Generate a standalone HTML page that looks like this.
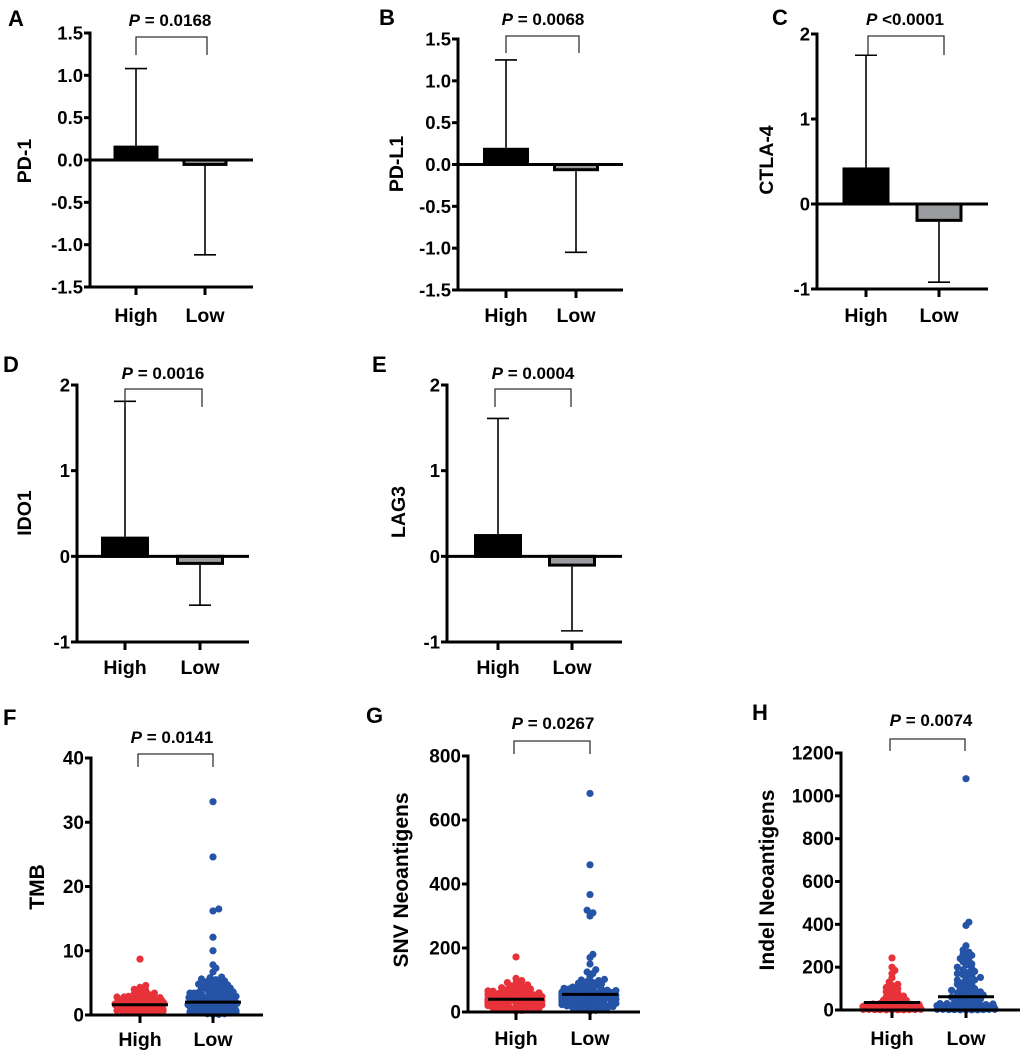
<!DOCTYPE html>
<html><head><meta charset="utf-8">
<style>
html,body{margin:0;padding:0;background:#fff;}
svg{display:block;font-family:"Liberation Sans",Arial,sans-serif;font-weight:bold;}
</style></head>
<body>
<svg id="fig" width="1020" height="1055" viewBox="0 0 1020 1055" xmlns="http://www.w3.org/2000/svg"></svg>
<script>
// ---- Bar panel data (A-E) ----
const barPanels = ["A","B","C","D","E"];
const barTitles = ["PD-1","PD-L1","CTLA-4","IDO1","LAG3"];
const barPValues = ["= 0.0168","= 0.0068","<0.0001","= 0.0016","= 0.0004"];
const barCategories = ["High","Low"];
const barHighMeans = [0.17, 0.20, 0.43, 0.23, 0.26];
const barLowMeans = [-0.07, -0.08, -0.21, -0.10, -0.12];
const barHighErrTop = [1.08, 1.25, 1.75, 1.81, 1.61];
const barLowErrBottom = [-1.12, -1.05, -0.92, -0.57, -0.87];
const barTicksA = [-1.5,-1.0,-0.5,0.0,0.5,1.0,1.5];
const barTicksC = [-1,0,1,2];

// ---- Scatter panel data (F-H) ----
const scPanels = ["F","G","H"];
const scTitles = ["TMB","SNV Neoantigens","Indel Neoantigens"];
const scPValues = ["= 0.0141","= 0.0267","= 0.0074"];
const scTicksF = [0,10,20,30,40];
const scTicksG = [0,200,400,600,800];
const scTicksH = [0,200,400,600,800,1000,1200];
const medianHigh = [1.6, 40, 35];
const medianLow = [2.0, 55, 62];
const tmbHigh = [8.7,4.6,4.3,4.0,3.8,3.6,3.4,3.2,3.1,3.0,2.9,2.8,2.7,2.6,2.5,2.4,2.4,2.3,2.2,2.2,2.1,2.0,2.0,1.9,1.9,1.8,1.8,1.7,1.7,1.7,1.6,1.6,1.6,1.5,1.5,1.5,1.4,1.4,1.4,1.3,1.3,1.3,1.2,1.2,1.1,1.1,1.0,1.0,0.9,0.9,0.8,0.7,0.6,0.5,0.4,0.3,2.3,1.9,1.2,0.8,
 2.5,2.4,2.2,2.1,2.0,1.9,1.8,1.7,1.6,1.5,1.4,1.3,1.2,1.1,1.0,0.9,0.8,0.7,2.6,2.3,2.1,1.9,1.7,1.5,1.3,1.1,0.9,0.6,0.5,0.4,2.0,1.8,1.6,1.4,1.2,1.0,3.3,2.8,2.7,0.2];
const tmbLow = [33.2,24.6,16.5,16.2,12.1,10.0,7.8,7.3,6.7,5.9,5.6,5.3,5.0,4.8,4.6,4.4,4.2,4.0,3.8,3.6,3.4,3.3,3.2,3.0,2.9,2.8,2.7,2.6,2.5,2.4,2.3,2.2,2.2,2.1,2.1,2.0,2.0,1.9,1.9,1.8,1.8,1.7,1.7,1.6,1.6,1.5,1.5,1.4,1.4,1.3,1.3,1.2,1.2,1.1,1.0,0.9,0.8,0.7,0.6,0.5,0.4,0.3,0.2,2.5,2.3,2.0,1.8,1.6,1.4,1.2,1.0,0.8,3.1,2.7,
 5.8,5.5,5.2,4.9,4.5,4.1,3.9,3.5,3.2,2.9,2.6,2.4,2.2,2.1,2.0,1.9,1.8,1.7,1.6,1.5,1.4,1.3,1.2,1.1,1.0,0.9,0.8,0.6,0.5,0.4,0.3,0.1,2.8,2.6,2.4,2.3,2.2,2.1,2.0,1.9,1.8,1.7,1.5,1.3,1.1,0.9,0.7,3.0,2.7,2.5,2.3,2.1,1.9,1.7,1.5,1.2,1.0,0.8,0.6,3.7,3.4,3.1,4.3,4.7,0.2,0.1];
const snvHigh = [172,105,98,92,85,80,76,72,68,65,62,60,58,55,52,50,48,46,44,42,40,40,38,37,36,35,34,33,32,30,30,28,27,26,25,24,22,20,18,16,14,12,10,8,5,45,38,30,22,
 90,82,75,70,66,63,60,57,54,51,49,47,45,43,41,39,37,35,33,31,29,27,25,23,21,19,17,15,13,11,9,7,55,48,42,36,31,26,20,15,44,39,34,28,3];
const snvLow = [683,460,367,318,310,300,180,170,150,132,125,120,110,102,98,95,90,85,80,76,72,70,68,65,62,60,58,56,55,53,52,50,48,46,45,44,42,40,38,36,35,33,30,28,26,25,22,20,18,15,12,10,5,60,50,40,30,20,70,45,
 100,92,88,82,78,74,71,67,64,61,58,56,54,52,50,48,47,45,43,41,39,37,35,33,31,29,27,25,23,21,19,17,14,11,8,65,60,55,50,46,42,38,34,30,26,22,57,53,49,44,40,36,32,28,24,3];
const indelHigh = [243,200,185,170,150,130,115,105,95,85,75,65,58,50,45,40,35,30,28,25,22,20,18,16,15,14,12,12,10,10,8,8,6,6,5,5,4,4,3,3,2,2,1,1,20,15,10,5,2,25,
 120,100,80,60,45,30,25,20,18,16,14,12,10,9,8,7,6,5,4,3,2,1,15,12,8,5,3,1];
const indelLow = [1080,410,395,300,270,255,240,225,210,195,180,170,160,150,140,130,120,110,100,95,90,85,80,75,70,65,60,55,50,45,40,35,30,28,25,22,20,18,16,14,12,10,10,8,8,6,6,5,5,4,4,3,3,2,2,1,1,20,15,10,5,25,12,
 280,260,245,230,215,200,188,176,164,152,140,128,116,104,92,80,70,60,50,40,30,25,20,18,15,12,10,8,6,5,4,3,2,1,15,12,9,6,3,1,22,18,14];

const NS="http://www.w3.org/2000/svg";
const svg=document.getElementById('fig');
function mk(tag,attrs,parent){const e=document.createElementNS(NS,tag);for(const k in attrs)e.setAttribute(k,attrs[k]);(parent||svg).appendChild(e);return e;}
function txt(s,attrs,parent){const e=mk('text',attrs,parent);e.textContent=s;return e;}
function scale(d0,d1,p0,p1){return v=>p0+(v-d0)*(p1-p0)/(d1-d0);}

const barLayout=[
 {ax:90,y0:-1.5,y1:1.5,p0:287,p1:33,hi:136,lo:205,end:253,hw:22.5,br:[136,207,37,55],px:170,py:26,lx:8,ly:26,tx:24,ty:161,xl:322,ticks:barTicksA,dec:1},
 {ax:458,y0:-1.5,y1:1.5,p0:290,p1:39,hi:506,lo:576,end:623,hw:23,br:[506,579,36,53],px:543,py:25,lx:379,ly:25,tx:396,ty:164,xl:322,ticks:barTicksA,dec:1},
 {ax:817,y0:-1,y1:2,p0:289,p1:34,hi:866,lo:939,end:988,hw:23.5,br:[868,944,36,55],px:905,py:25,lx:772,ly:25,tx:766,ty:160,xl:322,ticks:barTicksC,dec:0},
 {ax:77,y0:-1,y1:2,p0:642,p1:385,hi:125,lo:200,end:249,hw:24,br:[125,202,389,407],px:163,py:379,lx:3,ly:372,tx:24,ty:513,xl:674,ticks:barTicksC,dec:0},
 {ax:447,y0:-1,y1:2,p0:642,p1:385,hi:498,lo:572,end:622,hw:24,br:[495,571,389,407],px:533,py:379,lx:372,ly:372,tx:398,ty:512,xl:674,ticks:barTicksC,dec:0}
];

barPanels.forEach((name,i)=>{
 const L=barLayout[i];
 const g=mk('g',{});
 
 
 const y=scale(L.y0,L.y1,L.p0,L.p1);
 const z=y(0);
 let t=txt(name,{x:L.lx,y:L.ly,'font-size':22},g);
 
 const vals=[barHighMeans[i],barLowMeans[i]];
 const xs=[L.hi,L.lo];
 const fills=['#000','#9b9ca0'];
 vals.forEach((v,j)=>{
  const yy=y(v);
  const r=mk('rect',{x:xs[j]-L.hw+1.5,y:Math.min(yy,z)+(v<0?0:1.5),width:2*L.hw-3,height:Math.max(1,Math.abs(yy-z)-1.5),fill:fills[j],stroke:'#000','stroke-width':3},g);
  
 });
 const errs=[barHighErrTop[i],barLowErrBottom[i]];
 errs.forEach((e,j)=>{
  const yv=y(vals[j]),ye=y(e);
  const eg=mk('g',{stroke:'#000','stroke-width':1.6},g);
  
  mk('line',{x1:xs[j],x2:xs[j],y1:yv,y2:ye},eg);
  mk('line',{x1:xs[j]-11,x2:xs[j]+11,y1:ye,y2:ye},eg);
 });
 const axg=mk('g',{stroke:'#000','stroke-width':3,fill:'none'},g);
 
 mk('line',{x1:L.ax,x2:L.ax,y1:L.p1-1.5,y2:L.p0+1.5},axg);
 mk('line',{x1:L.ax,x2:L.end,y1:z,y2:z},axg);
 mk('line',{x1:L.ax-2,x2:L.end,y1:L.p0,y2:L.p0},axg);
 xs.forEach(x=>mk('line',{x1:x,x2:x,y1:L.p0,y2:L.p0+8},axg));
 L.ticks.forEach(v=>{
  mk('line',{x1:L.ax-6,x2:L.ax,y1:y(v),y2:y(v)},axg);
  const tl=txt(v.toFixed(L.dec),{x:L.ax-7,y:y(v)+6.5,'font-size':18.5,'text-anchor':'end'},g);
  
 });
 barCategories.forEach((c,j)=>{
  const xl=txt(c,{x:xs[j],y:L.xl,'font-size':19.5,'text-anchor':'middle'},g);
  
 });
 const yt=txt(barTitles[i],{x:L.tx,y:L.ty,'font-size':19.5,'text-anchor':'middle',transform:`rotate(-90 ${L.tx} ${L.ty})`,dy:7},g);
 
 const b=L.br;
 const bp=mk('path',{d:`M${b[0]} ${b[3]}V${b[2]}H${b[1]}V${b[3]}`,stroke:'#333','stroke-width':1.3,fill:'none'},g);
 
 const pt=txt('',{x:L.px,y:L.py,'font-size':17,'text-anchor':'middle'},g);
 
 const s1=mk('tspan',{'font-style':'italic'},pt);s1.textContent='P';
 const s2=mk('tspan',{},pt);s2.textContent=' '+barPValues[i];
});

const scLayout=[
 {ax:91,y1v:40,p0:1015,p1:758,hi:140,lo:213,end:263,br:[138,213,754,767],px:172,py:743,lx:3,ly:725,tx:37,ty:887,xl:1046,ticks:scTicksF,cap:25,hiVals:tmbHigh,loVals:tmbLow},
 {ax:468,y1v:800,p0:1012,p1:756,hi:516,lo:590,end:640,br:[514,590,741,754],px:553,py:729,lx:366,ly:723,tx:401,ty:880,xl:1045,ticks:scTicksG,cap:28,hiVals:snvHigh,loVals:snvLow},
 {ax:841,y1v:1200,p0:1010,p1:753,hi:892,lo:966,end:1020,br:[890,965,739,751],px:931,py:726,lx:752,ly:720,tx:767,ty:880,xl:1045,ticks:scTicksH,cap:30,hiVals:indelHigh,loVals:indelLow}
];
const colors=['#e8323a','#2553a5'];
function swarm(vals,cx,y,cap,r){
 const pts=[];const sorted=vals.slice().sort((a,b)=>a-b);
 sorted.forEach(v=>{
  const py=y(v);let placed=null;
  for(let k=0;k<=60;k++){
   const off=(k%2?1:-1)*Math.ceil(k/2)*r*0.8;
   if(Math.abs(off)>cap)break;
   const px=cx+off;
   if(pts.every(p=>(p[0]-px)**2+(p[1]-py)**2>=(1.15*r)**2)){placed=[px,py];break;}
  }
  if(!placed)placed=[cx+((pts.length*7)%(2*cap))-cap,py];
  pts.push(placed);
 });
 return pts;
}
scPanels.forEach((name,i)=>{
 const L=scLayout[i];
 const g=mk('g',{});
 
 
 const y=scale(0,L.y1v,L.p0,L.p1);
 let t=txt(name,{x:L.lx,y:L.ly,'font-size':22},g);
 
 [[L.hiVals,L.hi],[L.loVals,L.lo]].forEach((pair,j)=>{
  const dg=mk('g',{fill:colors[j]},g);
  
  swarm(pair[0],pair[1],y,L.cap,3.6).forEach(p=>{
   const c=mk('circle',{cx:p[0],cy:p[1],r:3.6},dg);
   
   
  });
 });
 const meds=[medianHigh[i],medianLow[i]];
 [L.hi,L.lo].forEach((x,j)=>{
  const ml=mk('line',{x1:x-28,x2:x+28,y1:y(meds[j]),y2:y(meds[j]),stroke:'#000','stroke-width':3},g);
  
 });
 const axg=mk('g',{stroke:'#000','stroke-width':3,fill:'none'},g);
 
 mk('line',{x1:L.ax,x2:L.ax,y1:L.p1-1.5,y2:L.p0+1.5},axg);
 mk('line',{x1:L.ax-2,x2:L.end,y1:L.p0,y2:L.p0},axg);
 [L.hi,L.lo].forEach(x=>mk('line',{x1:x,x2:x,y1:L.p0,y2:L.p0+8},axg));
 L.ticks.forEach(v=>{
  mk('line',{x1:L.ax-6,x2:L.ax,y1:y(v),y2:y(v)},axg);
  const tl=txt(String(v),{x:L.ax-7,y:y(v)+6.5,'font-size':19,'text-anchor':'end'},g);
  
 });
 barCategories.forEach((c,j)=>{
  const xl=txt(c,{x:[L.hi,L.lo][j],y:L.xl,'font-size':19.5,'text-anchor':'middle'},g);
  
 });
 const yt=txt(scTitles[i],{x:L.tx,y:L.ty,'font-size':21,'text-anchor':'middle',transform:`rotate(-90 ${L.tx} ${L.ty})`,dy:7},g);
 
 const b=L.br;
 const bp=mk('path',{d:`M${b[0]} ${b[3]}V${b[2]}H${b[1]}V${b[3]}`,stroke:'#333','stroke-width':1.3,fill:'none'},g);
 
 const pt=txt('',{x:L.px,y:L.py,'font-size':17,'text-anchor':'middle'},g);
 
 const s1=mk('tspan',{'font-style':'italic'},pt);s1.textContent='P';
 const s2=mk('tspan',{},pt);s2.textContent=' '+scPValues[i];
});
</script>
</body></html>
